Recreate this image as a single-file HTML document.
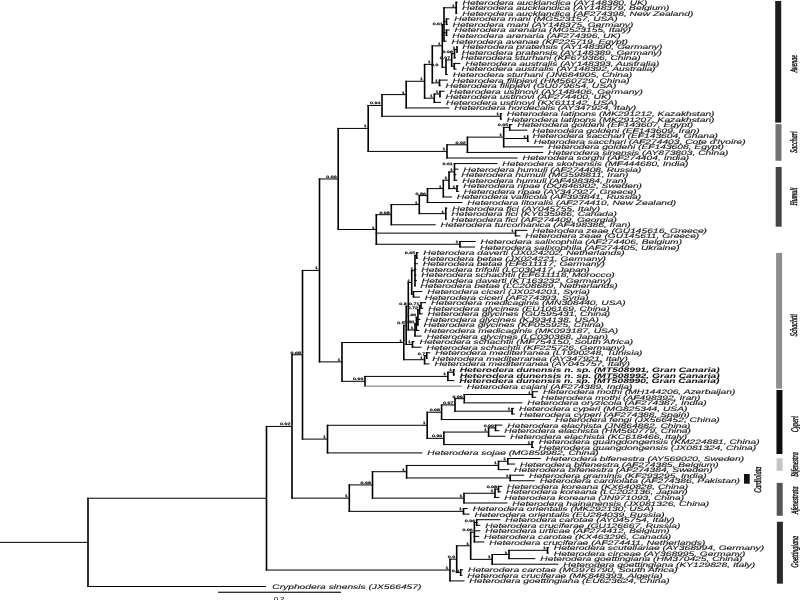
<!DOCTYPE html>
<html><head><meta charset="utf-8"><style>
html,body{margin:0;padding:0;background:#fff;}
svg{display:block;will-change:transform}
.t{text-rendering:geometricPrecision;font-family:"Liberation Sans",sans-serif;font-style:italic;font-size:58px;fill:#111;stroke:#111;stroke-width:1.0;}
.b{font-weight:bold;stroke-width:0.3;}
.s{text-rendering:geometricPrecision;font-family:"Liberation Sans",sans-serif;font-size:3.3px;fill:#222;text-anchor:end;stroke:#222;stroke-width:0.25px;}
.sb{text-rendering:geometricPrecision;font-family:"Liberation Sans",sans-serif;font-size:5.8px;fill:#222;stroke:#222;stroke-width:0.15px;}
.c{font-family:"Liberation Serif",serif;font-style:italic;font-size:6px;fill:#111;text-anchor:middle;stroke:#111;stroke-width:0.28px;text-rendering:geometricPrecision;}
</style></head><body>
<svg width="800" height="600" viewBox="0 0 800 600">
<defs><filter id="bl" x="0" y="0" width="800" height="600" filterUnits="userSpaceOnUse"><feGaussianBlur stdDeviation="0.4"/></filter></defs>
<rect width="800" height="600" fill="#fff"/>
<rect x="87.20" y="497.74" width="1.6" height="89.23" fill="#000"/>
<rect x="87.20" y="497.74" width="179.30" height="1.0" fill="#000"/>
<rect x="87.20" y="585.97" width="178.80" height="1.0" fill="#000"/>
<rect x="265.70" y="425.95" width="1.6" height="144.59" fill="#000"/>
<rect x="265.70" y="425.95" width="26.30" height="1.0" fill="#000"/>
<rect x="265.70" y="569.54" width="184.30" height="1.0" fill="#000"/>
<rect x="291.20" y="354.26" width="1.6" height="144.37" fill="#000"/>
<rect x="291.20" y="354.26" width="11.30" height="1.0" fill="#000"/>
<rect x="291.20" y="497.64" width="58.10" height="1.0" fill="#000"/>
<rect x="301.70" y="269.92" width="1.6" height="169.68" fill="#000"/>
<rect x="301.70" y="269.92" width="17.80" height="1.0" fill="#000"/>
<rect x="301.70" y="438.60" width="25.80" height="1.0" fill="#000"/>
<rect x="318.70" y="178.45" width="1.6" height="183.96" fill="#000"/>
<rect x="318.70" y="178.45" width="19.50" height="1.0" fill="#000"/>
<rect x="318.70" y="361.40" width="23.30" height="1.0" fill="#000"/>
<rect x="337.40" y="127.92" width="1.6" height="102.06" fill="#000"/>
<rect x="337.40" y="127.92" width="30.80" height="1.0" fill="#000"/>
<rect x="337.40" y="228.98" width="38.90" height="1.0" fill="#000"/>
<rect x="367.40" y="104.94" width="1.6" height="46.96" fill="#000"/>
<rect x="367.40" y="104.94" width="14.60" height="1.0" fill="#000"/>
<rect x="367.40" y="150.90" width="79.60" height="1.0" fill="#000"/>
<rect x="381.20" y="94.10" width="1.6" height="22.67" fill="#000"/>
<rect x="381.20" y="94.10" width="25.00" height="1.0" fill="#000"/>
<rect x="381.20" y="115.77" width="119.50" height="1.0" fill="#000"/>
<rect x="499.90" y="112.99" width="1.6" height="6.56" fill="#000"/>
<rect x="499.90" y="112.99" width="2.00" height="1.0" fill="#000"/>
<rect x="499.90" y="118.55" width="2.00" height="1.0" fill="#000"/>
<rect x="405.40" y="80.78" width="1.6" height="27.65" fill="#000"/>
<rect x="405.40" y="80.78" width="19.20" height="1.0" fill="#000"/>
<rect x="405.40" y="107.43" width="44.00" height="1.0" fill="#000"/>
<rect x="423.80" y="63.87" width="1.6" height="34.82" fill="#000"/>
<rect x="423.80" y="63.87" width="8.50" height="1.0" fill="#000"/>
<rect x="423.80" y="97.69" width="10.50" height="1.0" fill="#000"/>
<rect x="431.50" y="45.35" width="1.6" height="38.04" fill="#000"/>
<rect x="431.50" y="45.35" width="10.80" height="1.0" fill="#000"/>
<rect x="431.50" y="82.39" width="8.00" height="1.0" fill="#000"/>
<rect x="438.70" y="79.60" width="1.6" height="6.56" fill="#000"/>
<rect x="438.70" y="79.60" width="9.00" height="1.0" fill="#000"/>
<rect x="438.70" y="85.17" width="2.00" height="1.0" fill="#000"/>
<rect x="433.50" y="93.51" width="1.6" height="9.35" fill="#000"/>
<rect x="433.50" y="93.51" width="6.50" height="1.0" fill="#000"/>
<rect x="433.50" y="101.86" width="7.60" height="1.0" fill="#000"/>
<rect x="439.20" y="90.73" width="1.6" height="6.56" fill="#000"/>
<rect x="439.20" y="90.73" width="5.50" height="1.0" fill="#000"/>
<rect x="439.20" y="96.30" width="1.50" height="1.0" fill="#000"/>
<rect x="441.50" y="23.96" width="1.6" height="43.78" fill="#000"/>
<rect x="441.50" y="23.96" width="2.50" height="1.0" fill="#000"/>
<rect x="441.50" y="66.74" width="4.50" height="1.0" fill="#000"/>
<rect x="443.20" y="7.26" width="1.6" height="34.39" fill="#000"/>
<rect x="443.20" y="7.26" width="13.00" height="1.0" fill="#000"/>
<rect x="443.20" y="21.18" width="3.30" height="1.0" fill="#000"/>
<rect x="443.20" y="32.30" width="3.30" height="1.0" fill="#000"/>
<rect x="443.20" y="40.65" width="3.50" height="1.0" fill="#000"/>
<rect x="455.40" y="1.70" width="1.6" height="12.13" fill="#000"/>
<rect x="455.40" y="1.70" width="2.30" height="1.0" fill="#000"/>
<rect x="455.40" y="7.26" width="1.70" height="1.0" fill="#000"/>
<rect x="455.40" y="12.83" width="2.00" height="1.0" fill="#000"/>
<rect x="445.70" y="18.39" width="1.6" height="6.56" fill="#000"/>
<rect x="445.70" y="18.39" width="3.70" height="1.0" fill="#000"/>
<rect x="445.70" y="23.96" width="2.00" height="1.0" fill="#000"/>
<rect x="445.70" y="29.52" width="1.6" height="6.56" fill="#000"/>
<rect x="445.70" y="29.52" width="4.00" height="1.0" fill="#000"/>
<rect x="445.70" y="35.09" width="1.70" height="1.0" fill="#000"/>
<rect x="445.20" y="59.43" width="1.6" height="15.61" fill="#000"/>
<rect x="445.20" y="59.43" width="6.50" height="1.0" fill="#000"/>
<rect x="445.20" y="74.04" width="2.70" height="1.0" fill="#000"/>
<rect x="450.90" y="53.17" width="1.6" height="13.52" fill="#000"/>
<rect x="450.90" y="53.17" width="3.60" height="1.0" fill="#000"/>
<rect x="450.90" y="65.69" width="3.40" height="1.0" fill="#000"/>
<rect x="453.70" y="49.00" width="1.6" height="9.35" fill="#000"/>
<rect x="453.70" y="49.00" width="3.30" height="1.0" fill="#000"/>
<rect x="453.70" y="57.34" width="2.20" height="1.0" fill="#000"/>
<rect x="456.20" y="46.22" width="1.6" height="6.56" fill="#000"/>
<rect x="456.20" y="46.22" width="1.20" height="1.0" fill="#000"/>
<rect x="456.20" y="51.78" width="0.70" height="1.0" fill="#000"/>
<rect x="453.50" y="62.91" width="1.6" height="6.56" fill="#000"/>
<rect x="453.50" y="62.91" width="6.90" height="1.0" fill="#000"/>
<rect x="453.50" y="68.47" width="3.10" height="1.0" fill="#000"/>
<rect x="446.20" y="144.29" width="1.6" height="14.22" fill="#000"/>
<rect x="446.20" y="144.29" width="21.20" height="1.0" fill="#000"/>
<rect x="446.20" y="157.51" width="71.40" height="1.0" fill="#000"/>
<rect x="466.60" y="136.64" width="1.6" height="16.30" fill="#000"/>
<rect x="466.60" y="136.64" width="37.10" height="1.0" fill="#000"/>
<rect x="466.60" y="151.94" width="76.60" height="1.0" fill="#000"/>
<rect x="502.90" y="126.90" width="1.6" height="20.48" fill="#000"/>
<rect x="502.90" y="126.90" width="6.80" height="1.0" fill="#000"/>
<rect x="502.90" y="138.03" width="24.80" height="1.0" fill="#000"/>
<rect x="502.90" y="146.38" width="40.30" height="1.0" fill="#000"/>
<rect x="508.90" y="124.12" width="1.6" height="6.56" fill="#000"/>
<rect x="508.90" y="124.12" width="3.50" height="1.0" fill="#000"/>
<rect x="508.90" y="129.68" width="18.50" height="1.0" fill="#000"/>
<rect x="526.90" y="135.25" width="1.6" height="6.56" fill="#000"/>
<rect x="526.90" y="135.25" width="0.70" height="1.0" fill="#000"/>
<rect x="526.90" y="140.81" width="2.00" height="1.0" fill="#000"/>
<rect x="375.50" y="214.19" width="1.6" height="30.56" fill="#000"/>
<rect x="375.50" y="214.19" width="15.80" height="1.0" fill="#000"/>
<rect x="375.50" y="232.63" width="140.10" height="1.0" fill="#000"/>
<rect x="375.50" y="243.76" width="84.50" height="1.0" fill="#000"/>
<rect x="514.80" y="229.84" width="1.6" height="6.56" fill="#000"/>
<rect x="514.80" y="229.84" width="12.60" height="1.0" fill="#000"/>
<rect x="514.80" y="235.41" width="5.60" height="1.0" fill="#000"/>
<rect x="459.20" y="240.97" width="1.6" height="6.56" fill="#000"/>
<rect x="459.20" y="240.97" width="16.50" height="1.0" fill="#000"/>
<rect x="459.20" y="246.54" width="15.80" height="1.0" fill="#000"/>
<rect x="390.50" y="204.11" width="1.6" height="21.17" fill="#000"/>
<rect x="390.50" y="204.11" width="28.80" height="1.0" fill="#000"/>
<rect x="390.50" y="224.28" width="45.20" height="1.0" fill="#000"/>
<rect x="418.50" y="195.07" width="1.6" height="19.08" fill="#000"/>
<rect x="418.50" y="195.07" width="9.00" height="1.0" fill="#000"/>
<rect x="418.50" y="213.15" width="27.30" height="1.0" fill="#000"/>
<rect x="445.00" y="207.59" width="1.6" height="12.13" fill="#000"/>
<rect x="445.00" y="207.59" width="2.40" height="1.0" fill="#000"/>
<rect x="445.00" y="213.15" width="1.40" height="1.0" fill="#000"/>
<rect x="445.00" y="218.72" width="1.40" height="1.0" fill="#000"/>
<rect x="426.70" y="188.11" width="1.6" height="14.91" fill="#000"/>
<rect x="426.70" y="188.11" width="16.60" height="1.0" fill="#000"/>
<rect x="426.70" y="202.02" width="35.70" height="1.0" fill="#000"/>
<rect x="442.50" y="179.76" width="1.6" height="17.69" fill="#000"/>
<rect x="442.50" y="179.76" width="6.50" height="1.0" fill="#000"/>
<rect x="442.50" y="196.46" width="9.40" height="1.0" fill="#000"/>
<rect x="448.20" y="171.42" width="1.6" height="17.69" fill="#000"/>
<rect x="448.20" y="171.42" width="6.30" height="1.0" fill="#000"/>
<rect x="448.20" y="188.11" width="8.80" height="1.0" fill="#000"/>
<rect x="456.20" y="185.33" width="1.6" height="6.56" fill="#000"/>
<rect x="456.20" y="185.33" width="2.20" height="1.0" fill="#000"/>
<rect x="456.20" y="190.89" width="2.70" height="1.0" fill="#000"/>
<rect x="453.70" y="163.07" width="1.6" height="17.69" fill="#000"/>
<rect x="453.70" y="163.07" width="43.70" height="1.0" fill="#000"/>
<rect x="453.70" y="168.63" width="4.70" height="1.0" fill="#000"/>
<rect x="453.70" y="174.20" width="2.70" height="1.0" fill="#000"/>
<rect x="453.70" y="179.76" width="3.70" height="1.0" fill="#000"/>
<rect x="341.20" y="342.03" width="1.6" height="39.76" fill="#000"/>
<rect x="341.20" y="342.03" width="62.60" height="1.0" fill="#000"/>
<rect x="341.20" y="380.78" width="23.80" height="1.0" fill="#000"/>
<rect x="403.00" y="324.83" width="1.6" height="35.39" fill="#000"/>
<rect x="403.00" y="324.83" width="3.20" height="1.0" fill="#000"/>
<rect x="403.00" y="359.22" width="21.60" height="1.0" fill="#000"/>
<rect x="405.40" y="305.75" width="1.6" height="39.17" fill="#000"/>
<rect x="405.40" y="305.75" width="2.90" height="1.0" fill="#000"/>
<rect x="405.40" y="343.92" width="7.10" height="1.0" fill="#000"/>
<rect x="407.50" y="282.01" width="1.6" height="48.47" fill="#000"/>
<rect x="407.50" y="282.01" width="4.20" height="1.0" fill="#000"/>
<rect x="407.50" y="329.48" width="7.50" height="1.0" fill="#000"/>
<rect x="410.90" y="270.19" width="1.6" height="24.65" fill="#000"/>
<rect x="410.90" y="270.19" width="4.10" height="1.0" fill="#000"/>
<rect x="410.90" y="293.84" width="2.60" height="1.0" fill="#000"/>
<rect x="414.20" y="254.88" width="1.6" height="31.60" fill="#000"/>
<rect x="414.20" y="254.88" width="2.50" height="1.0" fill="#000"/>
<rect x="414.20" y="263.23" width="3.70" height="1.0" fill="#000"/>
<rect x="414.20" y="268.80" width="2.20" height="1.0" fill="#000"/>
<rect x="414.20" y="274.36" width="2.20" height="1.0" fill="#000"/>
<rect x="414.20" y="279.92" width="2.70" height="1.0" fill="#000"/>
<rect x="414.20" y="285.49" width="1.20" height="1.0" fill="#000"/>
<rect x="415.90" y="252.10" width="1.6" height="6.56" fill="#000"/>
<rect x="415.90" y="252.10" width="2.50" height="1.0" fill="#000"/>
<rect x="415.90" y="257.67" width="2.00" height="1.0" fill="#000"/>
<rect x="412.70" y="291.05" width="1.6" height="6.56" fill="#000"/>
<rect x="412.70" y="291.05" width="9.70" height="1.0" fill="#000"/>
<rect x="412.70" y="296.62" width="7.20" height="1.0" fill="#000"/>
<rect x="414.20" y="323.40" width="1.6" height="13.17" fill="#000"/>
<rect x="414.20" y="323.40" width="2.20" height="1.0" fill="#000"/>
<rect x="414.20" y="335.57" width="7.40" height="1.0" fill="#000"/>
<rect x="415.60" y="316.79" width="1.6" height="14.22" fill="#000"/>
<rect x="415.60" y="316.79" width="2.30" height="1.0" fill="#000"/>
<rect x="415.60" y="330.01" width="3.60" height="1.0" fill="#000"/>
<rect x="417.10" y="309.14" width="1.6" height="16.30" fill="#000"/>
<rect x="417.10" y="309.14" width="2.50" height="1.0" fill="#000"/>
<rect x="417.10" y="318.88" width="3.30" height="1.0" fill="#000"/>
<rect x="417.10" y="324.44" width="1.60" height="1.0" fill="#000"/>
<rect x="418.80" y="304.97" width="1.6" height="9.35" fill="#000"/>
<rect x="418.80" y="304.97" width="2.20" height="1.0" fill="#000"/>
<rect x="418.80" y="313.31" width="3.90" height="1.0" fill="#000"/>
<rect x="420.20" y="302.18" width="1.6" height="6.56" fill="#000"/>
<rect x="420.20" y="302.18" width="6.00" height="1.0" fill="#000"/>
<rect x="420.20" y="307.75" width="3.10" height="1.0" fill="#000"/>
<rect x="411.70" y="341.13" width="1.6" height="6.56" fill="#000"/>
<rect x="411.70" y="341.13" width="2.90" height="1.0" fill="#000"/>
<rect x="411.70" y="346.70" width="9.90" height="1.0" fill="#000"/>
<rect x="423.80" y="355.05" width="1.6" height="9.35" fill="#000"/>
<rect x="423.80" y="355.05" width="2.90" height="1.0" fill="#000"/>
<rect x="423.80" y="363.39" width="5.70" height="1.0" fill="#000"/>
<rect x="425.90" y="352.26" width="1.6" height="6.56" fill="#000"/>
<rect x="425.90" y="352.26" width="4.40" height="1.0" fill="#000"/>
<rect x="425.90" y="357.83" width="1.50" height="1.0" fill="#000"/>
<rect x="364.20" y="375.91" width="1.6" height="10.74" fill="#000"/>
<rect x="364.20" y="375.91" width="83.70" height="1.0" fill="#000"/>
<rect x="364.20" y="385.65" width="97.70" height="1.0" fill="#707070"/>
<rect x="447.10" y="371.74" width="1.6" height="9.35" fill="#000"/>
<rect x="447.10" y="371.74" width="6.60" height="1.0" fill="#000"/>
<rect x="447.10" y="380.09" width="7.30" height="1.0" fill="#000"/>
<rect x="452.90" y="368.96" width="1.6" height="6.56" fill="#000"/>
<rect x="452.90" y="368.96" width="1.90" height="1.0" fill="#000"/>
<rect x="452.90" y="374.52" width="1.90" height="1.0" fill="#000"/>
<rect x="326.70" y="424.78" width="1.6" height="28.65" fill="#000"/>
<rect x="326.70" y="424.78" width="100.50" height="1.0" fill="#000"/>
<rect x="326.70" y="452.42" width="95.70" height="1.0" fill="#000"/>
<rect x="426.40" y="411.73" width="1.6" height="27.08" fill="#000"/>
<rect x="426.40" y="411.73" width="15.20" height="1.0" fill="#000"/>
<rect x="426.40" y="437.82" width="17.50" height="1.0" fill="#000"/>
<rect x="440.80" y="404.43" width="1.6" height="15.61" fill="#000"/>
<rect x="440.80" y="404.43" width="14.20" height="1.0" fill="#000"/>
<rect x="440.80" y="419.04" width="109.60" height="1.0" fill="#000"/>
<rect x="454.20" y="398.17" width="1.6" height="13.52" fill="#000"/>
<rect x="454.20" y="398.17" width="10.10" height="1.0" fill="#000"/>
<rect x="454.20" y="410.69" width="57.90" height="1.0" fill="#000"/>
<rect x="463.50" y="394.00" width="1.6" height="9.35" fill="#000"/>
<rect x="463.50" y="394.00" width="69.00" height="1.0" fill="#000"/>
<rect x="463.50" y="402.34" width="58.90" height="1.0" fill="#000"/>
<rect x="531.70" y="391.21" width="1.6" height="6.56" fill="#000"/>
<rect x="531.70" y="391.21" width="6.30" height="1.0" fill="#000"/>
<rect x="531.70" y="396.78" width="4.50" height="1.0" fill="#000"/>
<rect x="511.30" y="407.91" width="1.6" height="6.56" fill="#000"/>
<rect x="511.30" y="407.91" width="2.80" height="1.0" fill="#000"/>
<rect x="511.30" y="413.47" width="3.40" height="1.0" fill="#000"/>
<rect x="443.10" y="431.56" width="1.6" height="13.52" fill="#000"/>
<rect x="443.10" y="431.56" width="45.50" height="1.0" fill="#000"/>
<rect x="443.10" y="444.08" width="88.90" height="1.0" fill="#000"/>
<rect x="487.80" y="427.38" width="1.6" height="9.35" fill="#000"/>
<rect x="487.80" y="427.38" width="7.70" height="1.0" fill="#000"/>
<rect x="487.80" y="435.73" width="17.60" height="1.0" fill="#000"/>
<rect x="494.70" y="424.60" width="1.6" height="6.56" fill="#000"/>
<rect x="494.70" y="424.60" width="7.70" height="1.0" fill="#000"/>
<rect x="494.70" y="430.17" width="4.70" height="1.0" fill="#000"/>
<rect x="531.20" y="441.30" width="1.6" height="6.56" fill="#000"/>
<rect x="531.20" y="441.30" width="2.70" height="1.0" fill="#000"/>
<rect x="531.20" y="446.86" width="2.70" height="1.0" fill="#000"/>
<rect x="348.50" y="484.42" width="1.6" height="27.43" fill="#000"/>
<rect x="348.50" y="484.42" width="24.00" height="1.0" fill="#000"/>
<rect x="348.50" y="510.85" width="115.00" height="1.0" fill="#000"/>
<rect x="371.70" y="471.20" width="1.6" height="27.43" fill="#000"/>
<rect x="371.70" y="471.20" width="34.90" height="1.0" fill="#000"/>
<rect x="371.70" y="497.64" width="92.30" height="1.0" fill="#000"/>
<rect x="405.80" y="464.94" width="1.6" height="13.52" fill="#000"/>
<rect x="405.80" y="464.94" width="92.70" height="1.0" fill="#000"/>
<rect x="405.80" y="477.46" width="104.40" height="1.0" fill="#000"/>
<rect x="497.70" y="460.77" width="1.6" height="9.35" fill="#000"/>
<rect x="497.70" y="460.77" width="10.10" height="1.0" fill="#000"/>
<rect x="497.70" y="469.12" width="11.50" height="1.0" fill="#000"/>
<rect x="507.00" y="457.99" width="1.6" height="6.56" fill="#000"/>
<rect x="507.00" y="457.99" width="33.80" height="1.0" fill="#000"/>
<rect x="507.00" y="463.55" width="8.10" height="1.0" fill="#000"/>
<rect x="509.40" y="474.68" width="1.6" height="6.56" fill="#000"/>
<rect x="509.40" y="474.68" width="14.80" height="1.0" fill="#000"/>
<rect x="509.40" y="480.25" width="25.40" height="1.0" fill="#000"/>
<rect x="463.20" y="492.77" width="1.6" height="10.74" fill="#000"/>
<rect x="463.20" y="492.77" width="31.80" height="1.0" fill="#000"/>
<rect x="463.20" y="502.50" width="44.20" height="1.0" fill="#000"/>
<rect x="494.20" y="488.59" width="1.6" height="9.35" fill="#000"/>
<rect x="494.20" y="488.59" width="4.30" height="1.0" fill="#000"/>
<rect x="494.20" y="496.94" width="5.20" height="1.0" fill="#000"/>
<rect x="497.70" y="485.81" width="1.6" height="6.56" fill="#000"/>
<rect x="497.70" y="485.81" width="4.50" height="1.0" fill="#000"/>
<rect x="497.70" y="491.38" width="3.40" height="1.0" fill="#000"/>
<rect x="462.70" y="508.07" width="1.6" height="6.56" fill="#000"/>
<rect x="462.70" y="508.07" width="5.10" height="1.0" fill="#000"/>
<rect x="462.70" y="513.63" width="6.90" height="1.0" fill="#000"/>
<rect x="449.20" y="558.67" width="1.6" height="22.74" fill="#000"/>
<rect x="449.20" y="558.67" width="7.50" height="1.0" fill="#000"/>
<rect x="449.20" y="580.41" width="15.20" height="1.0" fill="#000"/>
<rect x="455.90" y="545.28" width="1.6" height="27.78" fill="#000"/>
<rect x="455.90" y="545.28" width="14.80" height="1.0" fill="#000"/>
<rect x="455.90" y="572.06" width="4.80" height="1.0" fill="#000"/>
<rect x="459.90" y="569.28" width="1.6" height="6.56" fill="#000"/>
<rect x="459.90" y="569.28" width="3.20" height="1.0" fill="#000"/>
<rect x="459.90" y="574.84" width="2.50" height="1.0" fill="#000"/>
<rect x="469.90" y="531.72" width="1.6" height="28.13" fill="#000"/>
<rect x="469.90" y="531.72" width="4.50" height="1.0" fill="#000"/>
<rect x="469.90" y="558.85" width="22.30" height="1.0" fill="#000"/>
<rect x="473.60" y="521.98" width="1.6" height="20.48" fill="#000"/>
<rect x="473.60" y="521.98" width="3.10" height="1.0" fill="#000"/>
<rect x="473.60" y="530.33" width="6.80" height="1.0" fill="#000"/>
<rect x="473.60" y="535.89" width="5.50" height="1.0" fill="#000"/>
<rect x="473.60" y="541.46" width="10.80" height="1.0" fill="#000"/>
<rect x="475.90" y="519.20" width="1.6" height="6.56" fill="#000"/>
<rect x="475.90" y="519.20" width="24.50" height="1.0" fill="#000"/>
<rect x="475.90" y="524.76" width="4.50" height="1.0" fill="#000"/>
<rect x="491.40" y="553.98" width="1.6" height="10.74" fill="#000"/>
<rect x="491.40" y="553.98" width="17.60" height="1.0" fill="#000"/>
<rect x="491.40" y="563.71" width="67.00" height="1.0" fill="#000"/>
<rect x="508.20" y="549.80" width="1.6" height="9.35" fill="#000"/>
<rect x="508.20" y="549.80" width="39.30" height="1.0" fill="#000"/>
<rect x="508.20" y="558.15" width="27.20" height="1.0" fill="#000"/>
<rect x="546.70" y="547.02" width="1.6" height="6.56" fill="#000"/>
<rect x="546.70" y="547.02" width="2.20" height="1.0" fill="#000"/>
<rect x="546.70" y="552.59" width="2.20" height="1.0" fill="#000"/>
<rect x="0.00" y="541.86" width="88.00" height="1.0" fill="#000"/>
<g filter="url(#bl)">
<text class="t" transform="translate(462.60,4.65) scale(0.1765,0.111)">Heterodera aucklandica (AY148380, UK)</text>
<text class="t" transform="translate(462.00,10.22) scale(0.1765,0.111)">Heterodera aucklandica (AY148379, Belgium)</text>
<text class="t" transform="translate(462.30,15.78) scale(0.1765,0.111)">Heterodera aucklandica (A<tspan stroke-width="2.2">F</tspan>274398, New Zealand)</text>
<text class="t" transform="translate(454.30,21.35) scale(0.1765,0.111)">Heterodera mani (MG523157, USA)</text>
<text class="t" transform="translate(452.60,26.91) scale(0.1765,0.111)">Heterodera mani (AY148375, Germany)</text>
<text class="t" transform="translate(454.60,32.48) scale(0.1765,0.111)">Heterodera arenaria (MG523155, Italy)</text>
<text class="t" transform="translate(452.30,38.04) scale(0.1765,0.111)">Heterodera arenaria (A<tspan stroke-width="2.2">F</tspan>274396, UK)</text>
<text class="t" transform="translate(451.60,43.61) scale(0.1765,0.111)">Heterodera avenae (K<tspan stroke-width="2.2">F</tspan>225719, Egypt)</text>
<text class="t" transform="translate(462.30,49.17) scale(0.1765,0.111)">Heterodera pratensis (AY148390, Germany)</text>
<text class="t" transform="translate(461.80,54.74) scale(0.1765,0.111)">Heterodera pratensis (AY148389, Germany)</text>
<text class="t" transform="translate(460.80,60.30) scale(0.1765,0.111)">Heterodera sturhani (K<tspan stroke-width="2.2">F</tspan>679366, China)</text>
<text class="t" transform="translate(465.30,65.87) scale(0.1765,0.111)">Heterodera australis (AY148393, Australia)</text>
<text class="t" transform="translate(461.50,71.44) scale(0.1765,0.111)">Heterodera australis (AY148392, Australia)</text>
<text class="t" transform="translate(452.80,77.00) scale(0.1765,0.111)">Heterodera sturhani (JN684905, China)</text>
<text class="t" transform="translate(452.60,82.57) scale(0.1765,0.111)">Heterodera filipjevi (HM560729, China)</text>
<text class="t" transform="translate(445.60,88.13) scale(0.1765,0.111)">Heterodera filipjevi (GU079654, USA)</text>
<text class="t" transform="translate(449.60,93.70) scale(0.1765,0.111)">Heterodera ustinovi (AY148406, Germany)</text>
<text class="t" transform="translate(445.60,99.26) scale(0.1765,0.111)">Heterodera ustinovi (A<tspan stroke-width="2.2">F</tspan>274400, UK)</text>
<text class="t" transform="translate(446.00,104.83) scale(0.1765,0.111)">Heterodera ustinovi (KX611142, USA)</text>
<text class="t" transform="translate(454.30,110.39) scale(0.1765,0.111)">Heterodera hordecalis (AY347924, Italy)</text>
<text class="t" transform="translate(506.80,115.96) scale(0.1765,0.111)">Heterodera latipons (MK291212, Kazakhstan)</text>
<text class="t" transform="translate(506.80,121.53) scale(0.1765,0.111)">Heterodera latipons (MK291207, Kazakhstan)</text>
<text class="t" transform="translate(517.30,127.09) scale(0.1765,0.111)">Heterodera goldeni (E<tspan stroke-width="2.2">F</tspan>143607, Egypt)</text>
<text class="t" transform="translate(532.30,132.66) scale(0.1765,0.111)">Heterodera goldeni (E<tspan stroke-width="2.2">F</tspan>143609, Iran)</text>
<text class="t" transform="translate(532.50,138.22) scale(0.1765,0.111)">Heterodera sacchari (E<tspan stroke-width="2.2">F</tspan>143604, Ghana)</text>
<text class="t" transform="translate(533.80,143.79) scale(0.1765,0.111)">Heterodera sacchari (A<tspan stroke-width="2.2">F</tspan>274403, Cote d&#39;Ivoire)</text>
<text class="t" transform="translate(548.10,149.35) scale(0.1765,0.111)">Heterodera goldeni (E<tspan stroke-width="2.2">F</tspan>143608, Egypt)</text>
<text class="t" transform="translate(548.10,154.92) scale(0.1765,0.111)">Heterodera sinensis (AY873803, China)</text>
<text class="t" transform="translate(522.50,160.48) scale(0.1765,0.111)">Heterodera sorghi (A<tspan stroke-width="2.2">F</tspan>274404, India)</text>
<text class="t" transform="translate(502.30,166.05) scale(0.1765,0.111)">Heterodera skohensis (M<tspan stroke-width="2.2">F</tspan>444680, India)</text>
<text class="t" transform="translate(463.30,171.61) scale(0.1765,0.111)">Heterodera humuli (A<tspan stroke-width="2.2">F</tspan>274408, Russia)</text>
<text class="t" transform="translate(461.30,177.18) scale(0.1765,0.111)">Heterodera humuli (MG598811, Iran)</text>
<text class="t" transform="translate(462.30,182.75) scale(0.1765,0.111)">Heterodera humuli (A<tspan stroke-width="2.2">F</tspan>498384, Iran)</text>
<text class="t" transform="translate(463.30,188.31) scale(0.1765,0.111)">Heterodera ripae (DQ846902, Sweden)</text>
<text class="t" transform="translate(463.80,193.88) scale(0.1765,0.111)">Heterodera ripae (AY347927, Greece)</text>
<text class="t" transform="translate(456.80,199.44) scale(0.1765,0.111)">Heterodera vallicola (A<tspan stroke-width="2.2">F</tspan>393841, Russia)</text>
<text class="t" transform="translate(467.30,205.01) scale(0.1765,0.111)">Heterodera litoralis (A<tspan stroke-width="2.2">F</tspan>274410, New Zealand)</text>
<text class="t" transform="translate(452.30,210.57) scale(0.1765,0.111)">Heterodera fici (AY045755, Italy)</text>
<text class="t" transform="translate(451.30,216.14) scale(0.1765,0.111)">Heterodera fici (KY635986, Canada)</text>
<text class="t" transform="translate(451.30,221.70) scale(0.1765,0.111)">Heterodera fici (A<tspan stroke-width="2.2">F</tspan>274409, Georgia)</text>
<text class="t" transform="translate(440.60,227.27) scale(0.1765,0.111)">Heterodera turcomanica (A<tspan stroke-width="2.2">F</tspan>498386, Iran)</text>
<text class="t" transform="translate(532.30,232.84) scale(0.1765,0.111)">Heterodera zeae (GU145616, Greece)</text>
<text class="t" transform="translate(525.30,238.40) scale(0.1765,0.111)">Heterodera zeae (GU145611, Greece)</text>
<text class="t" transform="translate(480.60,243.97) scale(0.1765,0.111)">Heterodera salixophila (A<tspan stroke-width="2.2">F</tspan>274406, Belgium)</text>
<text class="t" transform="translate(479.90,249.53) scale(0.1765,0.111)">Heterodera salixophila (A<tspan stroke-width="2.2">F</tspan>274405, Ukraine)</text>
<text class="t" transform="translate(423.30,255.10) scale(0.1765,0.111)">Heterodera daverti (JX024202, Netherlands)</text>
<text class="t" transform="translate(422.80,260.66) scale(0.1765,0.111)">Heterodera betae (JX024221, Germany)</text>
<text class="t" transform="translate(422.80,266.23) scale(0.1765,0.111)">Heterodera betae (E<tspan stroke-width="2.2">F</tspan>611117, Germany)</text>
<text class="t" transform="translate(421.30,271.79) scale(0.1765,0.111)">Heterodera trifolii (LC030417, Japan)</text>
<text class="t" transform="translate(421.30,277.36) scale(0.1765,0.111)">Heterodera schachtii (E<tspan stroke-width="2.2">F</tspan>611118, Morocco)</text>
<text class="t" transform="translate(421.80,282.92) scale(0.1765,0.111)">Heterodera daverti (KT163232, Germany)</text>
<text class="t" transform="translate(420.30,288.49) scale(0.1765,0.111)">Heterodera betae (LC208689, Netherlands)</text>
<text class="t" transform="translate(427.30,294.06) scale(0.1765,0.111)">Heterodera ciceri (JX024201, Syria)</text>
<text class="t" transform="translate(424.80,299.62) scale(0.1765,0.111)">Heterodera ciceri (A<tspan stroke-width="2.2">F</tspan>274393, Syria)</text>
<text class="t" transform="translate(431.10,305.19) scale(0.1765,0.111)">Heterodera medicaginis (MN308440, USA)</text>
<text class="t" transform="translate(428.20,310.75) scale(0.1765,0.111)">Heterodera glycines (EU106169, China)</text>
<text class="t" transform="translate(427.60,316.32) scale(0.1765,0.111)">Heterodera glycines (GU595431, China)</text>
<text class="t" transform="translate(425.30,321.88) scale(0.1765,0.111)">Heterodera glycines (KJ934138, USA)</text>
<text class="t" transform="translate(423.60,327.45) scale(0.1765,0.111)">Heterodera glycines (K<tspan stroke-width="2.2">F</tspan>055925, China)</text>
<text class="t" transform="translate(424.10,333.01) scale(0.1765,0.111)">Heterodera medicaginis (MK093187, USA)</text>
<text class="t" transform="translate(426.50,338.58) scale(0.1765,0.111)">Heterodera glycines (LC030368, Japan)</text>
<text class="t" transform="translate(419.50,344.15) scale(0.1765,0.111)">Heterodera schachtii (M<tspan stroke-width="2.2">F</tspan>754150, South Africa)</text>
<text class="t" transform="translate(426.50,349.71) scale(0.1765,0.111)">Heterodera schachtii (K<tspan stroke-width="2.2">F</tspan>225726, Germany)</text>
<text class="t" transform="translate(435.20,355.28) scale(0.1765,0.111)">Heterodera mediterranea (LT990248, Tunisia)</text>
<text class="t" transform="translate(432.30,360.84) scale(0.1765,0.111)">Heterodera mediterranea (AY347921, Italy)</text>
<text class="t" transform="translate(434.40,366.41) scale(0.1765,0.111)">Heterodera mediterranea (AY045757, Italy)</text>
<text class="t b" transform="translate(459.70,371.97) scale(0.1765,0.111)">Heterodera dunensis n. sp. (MT508991, Gran Canaria)</text>
<text class="t b" transform="translate(459.70,377.54) scale(0.1765,0.111)">Heterodera dunensis n. sp. (MT508992, Gran Canaria)</text>
<text class="t b" transform="translate(459.30,383.10) scale(0.1765,0.111)">Heterodera dunensis n. sp. (MT508990, Gran Canaria)</text>
<text class="t" fill="#707070" transform="translate(466.80,388.67) scale(0.1765,0.111)">Heterodera cajani (A<tspan stroke-width="2.2">F</tspan>274389, India)</text>
<text class="t" transform="translate(542.90,394.23) scale(0.1765,0.111)">Heterodera mothi (MH144206, Azerbaijan)</text>
<text class="t" transform="translate(541.10,399.80) scale(0.1765,0.111)">Heterodera mothi (A<tspan stroke-width="2.2">F</tspan>498392, Iran)</text>
<text class="t" transform="translate(527.30,405.37) scale(0.1765,0.111)">Heterodera oryzicola (A<tspan stroke-width="2.2">F</tspan>274387, India)</text>
<text class="t" transform="translate(519.00,410.93) scale(0.1765,0.111)">Heterodera cyperi (MG825344, USA)</text>
<text class="t" transform="translate(519.60,416.50) scale(0.1765,0.111)">Heterodera cyperi (A<tspan stroke-width="2.2">F</tspan>274388, Spain)</text>
<text class="t" transform="translate(555.30,422.06) scale(0.1765,0.111)">Heterodera fengi (JX566452, China)</text>
<text class="t" transform="translate(507.30,427.63) scale(0.1765,0.111)">Heterodera elachista (JN864882, China)</text>
<text class="t" transform="translate(504.30,433.19) scale(0.1765,0.111)">Heterodera elachista (HM560779, China)</text>
<text class="t" transform="translate(510.30,438.76) scale(0.1765,0.111)">Heterodera elachista (KC618466, Italy)</text>
<text class="t" transform="translate(538.80,444.32) scale(0.1765,0.111)">Heterodera guangdongensis (KM224881, China)</text>
<text class="t" transform="translate(538.80,449.89) scale(0.1765,0.111)">Heterodera guangdongensis (JX081324, China)</text>
<text class="t" transform="translate(427.30,455.46) scale(0.1765,0.111)">Heterodera sojae (MG859982, China)</text>
<text class="t" transform="translate(545.70,461.02) scale(0.1765,0.111)">Heterodera bifenestra (AY569020, Sweden)</text>
<text class="t" transform="translate(520.00,466.59) scale(0.1765,0.111)">Heterodera bifenestra (A<tspan stroke-width="2.2">F</tspan>274385, Belgium)</text>
<text class="t" transform="translate(514.10,472.15) scale(0.1765,0.111)">Heterodera bifenestra (A<tspan stroke-width="2.2">F</tspan>274384, Sweden)</text>
<text class="t" transform="translate(529.10,477.72) scale(0.1765,0.111)">Heterodera graminis (K<tspan stroke-width="2.2">F</tspan>293295, India)</text>
<text class="t" transform="translate(539.70,483.28) scale(0.1765,0.111)">Heterodera cardiolata (A<tspan stroke-width="2.2">F</tspan>274386, Pakistan)</text>
<text class="t" transform="translate(507.10,488.85) scale(0.1765,0.111)">Heterodera koreana (KX640828, China)</text>
<text class="t" transform="translate(506.00,494.41) scale(0.1765,0.111)">Heterodera koreana (LC202136, Japan)</text>
<text class="t" transform="translate(504.30,499.98) scale(0.1765,0.111)">Heterodera koreana (JN971093, China)</text>
<text class="t" transform="translate(512.30,505.54) scale(0.1765,0.111)">Heterodera hainanensis (JX081326, China)</text>
<text class="t" transform="translate(472.70,511.11) scale(0.1765,0.111)">Heterodera orientalis (MK292130, USA)</text>
<text class="t" transform="translate(474.50,516.68) scale(0.1765,0.111)">Heterodera orientalis (EU284039, Russia)</text>
<text class="t" transform="translate(505.30,522.24) scale(0.1765,0.111)">Heterodera carotae (AY045754, Italy)</text>
<text class="t" transform="translate(485.30,527.81) scale(0.1765,0.111)">Heterodera cruciferae (GU126667, Russia)</text>
<text class="t" transform="translate(485.30,533.37) scale(0.1765,0.111)">Heterodera urticae (A<tspan stroke-width="2.2">F</tspan>274412, Belgium)</text>
<text class="t" transform="translate(484.00,538.94) scale(0.1765,0.111)">Heterodera carotae (KX463296, Canada)</text>
<text class="t" transform="translate(489.30,544.50) scale(0.1765,0.111)">Heterodera cruciferae (A<tspan stroke-width="2.2">F</tspan>274411, Netherlands)</text>
<text class="t" transform="translate(553.80,550.07) scale(0.1765,0.111)">Heterodera scutellariae (AY368994, Germany)</text>
<text class="t" transform="translate(553.80,555.63) scale(0.1765,0.111)">Heterodera circeae (AY368995, Germany)</text>
<text class="t" transform="translate(540.30,561.20) scale(0.1765,0.111)">Heterodera goettingiana (HM370425, China)</text>
<text class="t" transform="translate(563.30,566.77) scale(0.1765,0.111)">Heterodera goettingiana (KY129828, Italy)</text>
<text class="t" transform="translate(468.00,572.33) scale(0.1765,0.111)">Heterodera carotae (MG976790, South Africa)</text>
<text class="t" transform="translate(467.30,577.90) scale(0.1765,0.111)">Heterodera cruciferae (MK848393, Algeria)</text>
<text class="t" transform="translate(469.30,583.46) scale(0.1765,0.111)">Heterodera goettingiana (EU623624, China)</text>
<text class="t" transform="translate(272.30,589.03) scale(0.1765,0.111)">Cryphodera sinensis (JX566457)</text>
</g>
<text class="s" transform="translate(290.40,425.40) scale(1.6,1)">0.92</text>
<text class="s" transform="translate(300.90,353.80) scale(1.6,1)">0.68</text>
<text class="s" transform="translate(317.90,269.40) scale(1.6,1)">1</text>
<text class="s" transform="translate(336.60,177.90) scale(1.6,1)">0.99</text>
<text class="s" transform="translate(366.60,127.40) scale(1.6,1)">1</text>
<text class="s" transform="translate(380.40,104.40) scale(1.6,1)">0.94</text>
<text class="s" transform="translate(499.10,115.30) scale(1.6,1)">1</text>
<text class="s" transform="translate(404.60,93.60) scale(1.6,1)">1</text>
<text class="s" transform="translate(423.00,80.30) scale(1.6,1)">1</text>
<text class="s" transform="translate(430.70,63.40) scale(1.6,1)">1</text>
<text class="s" transform="translate(437.90,81.90) scale(1.6,1)">1</text>
<text class="s" transform="translate(432.70,97.20) scale(1.6,1)">1</text>
<text class="s" transform="translate(438.40,93.00) scale(1.6,1)">1</text>
<text class="s" transform="translate(440.70,44.80) scale(1.6,1)">1</text>
<text class="s" transform="translate(443.00,24.60) scale(1.6,1)">0.61</text>
<text class="s" transform="translate(454.60,6.80) scale(1.6,1)">1</text>
<text class="s" transform="translate(438.50,66.20) scale(1.6,1)">0.9</text>
<text class="s" transform="translate(450.10,58.90) scale(1.6,1)">0.97</text>
<text class="s" transform="translate(452.90,52.70) scale(1.6,1)">0.98</text>
<text class="s" transform="translate(455.40,48.50) scale(1.6,1)">1</text>
<text class="s" transform="translate(445.40,150.40) scale(1.6,1)">1</text>
<text class="s" transform="translate(465.80,143.80) scale(1.6,1)">0.92</text>
<text class="s" transform="translate(502.10,136.10) scale(1.6,1)">1</text>
<text class="s" transform="translate(508.10,126.40) scale(1.6,1)">0.95</text>
<text class="s" transform="translate(526.10,137.50) scale(1.6,1)">1</text>
<text class="s" transform="translate(374.70,228.50) scale(1.6,1)">1</text>
<text class="s" transform="translate(514.00,232.10) scale(1.6,1)">1</text>
<text class="s" transform="translate(458.40,243.30) scale(1.6,1)">1</text>
<text class="s" transform="translate(389.70,213.70) scale(1.6,1)">0.98</text>
<text class="s" transform="translate(417.70,203.60) scale(1.6,1)">1</text>
<text class="s" transform="translate(444.20,212.70) scale(1.6,1)">1</text>
<text class="s" transform="translate(425.90,194.60) scale(1.6,1)">0.86</text>
<text class="s" transform="translate(441.70,187.60) scale(1.6,1)">1</text>
<text class="s" transform="translate(447.40,179.30) scale(1.6,1)">1</text>
<text class="s" transform="translate(455.40,187.60) scale(1.6,1)">1</text>
<text class="s" transform="translate(452.90,170.90) scale(1.6,1)">1</text>
<text class="s" transform="translate(340.40,360.90) scale(1.6,1)">1</text>
<text class="s" transform="translate(402.20,341.50) scale(1.6,1)">1</text>
<text class="s" transform="translate(404.60,324.30) scale(1.6,1)">0.5</text>
<text class="s" transform="translate(406.70,305.20) scale(1.6,1)">0.8</text>
<text class="s" transform="translate(410.10,281.50) scale(1.6,1)">1</text>
<text class="s" transform="translate(413.40,269.70) scale(1.6,1)">1</text>
<text class="s" transform="translate(415.10,254.40) scale(1.6,1)">0.65</text>
<text class="s" transform="translate(413.40,329.00) scale(1.6,1)">1</text>
<text class="s" transform="translate(414.80,322.90) scale(1.6,1)">0.81</text>
<text class="s" transform="translate(416.30,316.30) scale(1.6,1)">0.66</text>
<text class="s" transform="translate(418.00,308.60) scale(1.6,1)">0.72</text>
<text class="s" transform="translate(419.40,304.50) scale(1.6,1)">0.71</text>
<text class="s" transform="translate(410.90,343.40) scale(1.6,1)">1</text>
<text class="s" transform="translate(423.00,358.70) scale(1.6,1)">1</text>
<text class="s" transform="translate(425.10,354.50) scale(1.6,1)">0.7</text>
<text class="s" transform="translate(363.40,380.30) scale(1.6,1)">0.99</text>
<text class="s" transform="translate(446.30,375.40) scale(1.6,1)">1</text>
<text class="s" transform="translate(452.10,371.20) scale(1.6,1)">1</text>
<text class="s" transform="translate(325.90,438.10) scale(1.6,1)">1</text>
<text class="s" transform="translate(425.60,424.30) scale(1.6,1)">1</text>
<text class="s" transform="translate(440.00,411.20) scale(1.6,1)">0.98</text>
<text class="s" transform="translate(453.40,403.90) scale(1.6,1)">0.97</text>
<text class="s" transform="translate(462.70,397.70) scale(1.6,1)">0.99</text>
<text class="s" transform="translate(530.90,393.50) scale(1.6,1)">1</text>
<text class="s" transform="translate(510.50,410.20) scale(1.6,1)">1</text>
<text class="s" transform="translate(442.30,437.30) scale(1.6,1)">0.99</text>
<text class="s" transform="translate(487.00,431.10) scale(1.6,1)">1</text>
<text class="s" transform="translate(493.90,426.90) scale(1.6,1)">0.99</text>
<text class="s" transform="translate(530.40,443.60) scale(1.6,1)">1</text>
<text class="s" transform="translate(347.70,497.10) scale(1.6,1)">1</text>
<text class="s" transform="translate(370.90,483.90) scale(1.6,1)">0.98</text>
<text class="s" transform="translate(405.00,470.70) scale(1.6,1)">1</text>
<text class="s" transform="translate(496.90,464.40) scale(1.6,1)">1</text>
<text class="s" transform="translate(506.20,460.30) scale(1.6,1)">1</text>
<text class="s" transform="translate(508.60,477.00) scale(1.6,1)">1</text>
<text class="s" transform="translate(462.40,497.10) scale(1.6,1)">1</text>
<text class="s" transform="translate(493.40,492.30) scale(1.6,1)">1</text>
<text class="s" transform="translate(496.90,488.10) scale(1.6,1)">0.98</text>
<text class="s" transform="translate(461.90,510.40) scale(1.6,1)">1</text>
<text class="s" transform="translate(448.40,569.00) scale(1.6,1)">1</text>
<text class="s" transform="translate(455.10,558.20) scale(1.6,1)">0.9</text>
<text class="s" transform="translate(459.10,571.60) scale(1.6,1)">0.9</text>
<text class="s" transform="translate(469.10,544.80) scale(1.6,1)">1</text>
<text class="s" transform="translate(472.80,531.20) scale(1.6,1)">0.96</text>
<text class="s" transform="translate(475.10,521.50) scale(1.6,1)">0.96</text>
<text class="s" transform="translate(490.60,558.30) scale(1.6,1)">1</text>
<text class="s" transform="translate(507.40,553.50) scale(1.6,1)">1</text>
<text class="s" transform="translate(545.90,549.30) scale(1.6,1)">1</text>
<text class="s" transform="translate(452.80,165.00) scale(1.6,1)">0.61</text>
<!-- scale bar -->
<rect x="218" y="591.7" width="123" height="1.1" fill="#000"/>
<text class="sb" transform="translate(274,600.7) scale(1.29,1)">0.2</text>
<rect x="775.21" y="1" width="6" height="121.60" fill="#1c1c1c"/>
<rect x="775.49" y="124.1" width="6" height="36.65" fill="#707070"/>
<rect x="775.68" y="167" width="6" height="59.70" fill="#454545"/>
<rect x="776.10" y="252.9" width="6" height="135.70" fill="#8e8e8e"/>
<rect x="776.45" y="390" width="6" height="64.00" fill="#0e0e0e"/>
<rect x="776.59" y="458.3" width="6" height="12.60" fill="#c4c4c4"/>
<rect x="776.71" y="482.9" width="6" height="32.90" fill="#555555"/>
<rect x="776.90" y="521.75" width="6" height="61.95" fill="#2a2a2a"/>
<rect x="744" y="474" width="5.7" height="9.7" fill="#111"/>
<text class="c" transform="translate(796.52,63.85) scale(1.65,1) rotate(-90)">Avenae</text>
<text class="c" transform="translate(796.79,142.00) scale(1.65,1) rotate(-90)">Sacchari</text>
<text class="c" transform="translate(796.97,196.50) scale(1.65,1) rotate(-90)">Humuli</text>
<text class="c" transform="translate(797.42,325.20) scale(1.65,1) rotate(-90)">Schachtii</text>
<text class="c" transform="translate(797.76,424.20) scale(1.65,1) rotate(-90)">Cyperi</text>
<text class="c" transform="translate(797.89,464.50) scale(1.65,1) rotate(-90)">Bifenestra</text>
<text class="c" transform="translate(798.02,500.40) scale(1.65,1) rotate(-90)">Afenestrata</text>
<text class="c" transform="translate(798.19,551.80) scale(1.65,1) rotate(-90)">Goettingiana</text>
<text class="c" transform="translate(761.3,479.7) scale(1.65,1) rotate(-90)">Cardiolata</text>
</svg>
</body></html>
